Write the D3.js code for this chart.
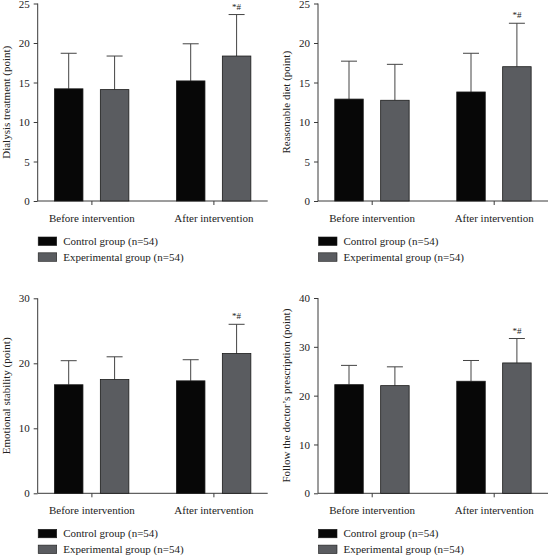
<!DOCTYPE html>
<html><head><meta charset="utf-8">
<script src="https://cdn.jsdelivr.net/npm/d3@7/dist/d3.min.js"></script>
<style>
body{margin:0;background:#fff;}
svg{display:block;}
text{font-family:"Liberation Serif","Times New Roman",serif;fill:#222;}
</style></head>
<body>
<svg id="chart" width="549" height="555"></svg>
<script>
const groups = ["Before intervention", "After intervention"];
const seriesNames = ["Control group (n=54)", "Experimental group (n=54)"];
const panelTitles = ["Dialysis treatment (point)", "Reasonable diet (point)", "Emotional stability (point)", "Follow the doctor\u2019s prescription (point)"];
const yMax = [25, 25, 30, 40];
const yTicks = [[0,5,10,15,20,25],[0,5,10,15,20,25],[0,10,20,30],[0,10,20,30,40]];
// means [control, experimental] for each group
const means = [
  [[14.2, 14.1], [15.2, 18.35]],
  [[12.9, 12.75], [13.8, 17.0]],
  [[16.7, 17.5], [17.3, 21.5]],
  [[22.25, 22.05], [22.95, 26.7]]
];
const sds = [
  [[4.5, 4.25], [4.7, 5.25]],
  [[4.8, 4.55], [4.9, 5.5]],
  [[3.7, 3.5], [3.25, 4.5]],
  [[3.95, 3.85], [4.25, 5.0]]
];
const annot = [[[ "", ""], ["", "*#"]], [["", ""], ["", "*#"]], [["", ""], ["", "*#"]], [["", ""], ["", "*#"]]];
const colors = ["#070707", "#5a5c60"];

const layout = [
  {ax: 37.7, y0: 201, yTop: 3.5},
  {ax: 318, y0: 201, yTop: 3.5},
  {ax: 37.7, y0: 493.3, yTop: 298.3},
  {ax: 318, y0: 493.3, yTop: 298}
];

const svg = d3.select("#chart");

layout.forEach((L, p) => {
  const g = svg.append("g").attr("transform", `translate(${L.ax},0)`);
  const y = d3.scaleLinear().domain([0, yMax[p]]).range([L.y0, L.yTop]);
  const xg = d3.scalePoint().domain(groups).range([53.7, 175.7]);
  const xs = d3.scaleOrdinal().domain([0,1]).range([-22.7, 23.2]);
  const bw = 28.5;

  // y axis
  const yAxis = d3.axisLeft(y).tickValues(yTicks[p]).tickSize(4).tickPadding(4).tickFormat(d3.format("d"));
  const ya = g.append("g").call(yAxis);
  ya.select(".domain").attr("d", `M0,${L.yTop}V${L.y0}`).attr("stroke", "#3a3a3a");
  ya.selectAll(".tick line").attr("stroke", "#3a3a3a");
  ya.selectAll(".tick text").style("font-family", '"Liberation Serif",serif').style("font-size", "11px").attr("fill", "#222");

  // x axis
  const xAxis = d3.axisBottom(xg).tickSize(4).tickPadding(9);
  const xa = g.append("g").attr("transform", `translate(0,${L.y0})`).call(xAxis);
  xa.select(".domain").attr("d", "M0,0H230").attr("stroke", "#3a3a3a");
  xa.selectAll(".tick line").attr("stroke", "#3a3a3a");
  xa.selectAll(".tick text").style("font-family", '"Liberation Serif",serif').style("font-size", "11px").attr("fill", "#222");

  // bars
  groups.forEach((grp, gi) => {
    [0,1].forEach(si => {
      const cx = xg(grp) + xs(si);
      const m = means[p][gi][si], s = sds[p][gi][si];
      // error bar
      g.append("line").attr("x1", cx).attr("x2", cx).attr("y1", y(m)).attr("y2", y(m + s))
        .attr("stroke", "#444").attr("stroke-width", 1);
      g.append("line").attr("x1", cx - 8).attr("x2", cx + 8).attr("y1", y(m + s)).attr("y2", y(m + s))
        .attr("stroke", "#444").attr("stroke-width", 1);
      g.append("rect").attr("x", cx - bw/2).attr("y", y(m)).attr("width", bw).attr("height", L.y0 - y(m))
        .attr("fill", colors[si]).attr("stroke", "#1a1a1a").attr("stroke-width", 0.8);
      const a = annot[p][gi][si];
      if (a) {
        g.append("text").attr("x", cx).attr("y", y(m + s) - 5).attr("text-anchor", "middle")
          .style("font-size", "9px").attr("fill", "#444").text(a);
      }
    });
  });

  // y label
  g.append("text").attr("transform", `translate(-31.5,${(L.y0 + L.yTop)/2}) rotate(-90)`)
    .attr("text-anchor", "middle").attr("dy", "0.35em").style("font-size", "11px").text(panelTitles[p]);

  // legend
  seriesNames.forEach((nm, si) => {
    const ry = L.y0 + 36 + si * 15.8;
    g.append("rect").attr("x", 0.5).attr("y", ry).attr("width", 18.5).attr("height", 8.5)
      .attr("fill", colors[si]).attr("stroke", "#1a1a1a").attr("stroke-width", 0.6);
    g.append("text").attr("x", 25.5).attr("y", ry + 4.3).attr("dy", "0.35em")
      .style("font-size", "11px").text(nm);
  });
});
</script>
</body></html>
